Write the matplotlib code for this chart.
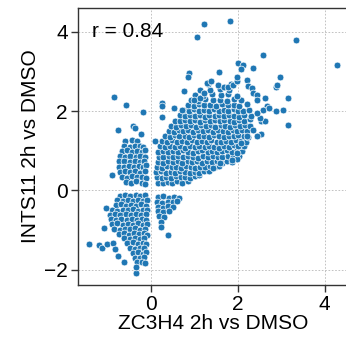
import matplotlib
matplotlib.use("Agg")
import matplotlib.pyplot as plt
import numpy as np

plt.rcParams['font.family'] = ['Liberation Sans', 'DejaVu Sans']

# Upper-right cluster (ZC3H4 up, INTS11 up)
q1 = [
 (0.16,0.20),(0.27,0.18),(0.38,0.22),(0.49,0.19),(0.60,0.23),(0.72,0.20),(0.84,0.25),
 (0.13,0.33),(0.24,0.31),(0.35,0.35),(0.46,0.32),(0.57,0.36),(0.68,0.33),(0.79,0.35),(0.90,0.32),(1.01,0.37),(1.10,0.40),
 (0.12,0.46),(0.23,0.48),(0.34,0.45),(0.45,0.47),(0.56,0.44),(0.67,0.48),(0.78,0.46),(0.89,0.43),(1.00,0.47),(1.11,0.45),(1.22,0.49),(1.34,0.50),
 (0.14,0.59),(0.25,0.57),(0.36,0.61),(0.47,0.58),(0.58,0.60),(0.69,0.57),(0.80,0.62),(0.91,0.59),(1.02,0.56),(1.13,0.60),(1.24,0.58),(1.35,0.61),(1.46,0.59),(1.56,0.62),
 (0.15,0.72),(0.27,0.70),(0.38,0.74),(0.50,0.71),(0.61,0.73),(0.72,0.69),(0.84,0.74),(0.95,0.71),(1.06,0.73),(1.18,0.70),(1.29,0.74),(1.40,0.71),(1.52,0.73),(1.63,0.70),(1.75,0.75),(1.86,0.72),
 (0.17,0.85),(0.28,0.83),(0.40,0.87),(0.51,0.84),(0.62,0.86),(0.74,0.83),(0.85,0.88),(0.96,0.85),(1.08,0.82),(1.19,0.86),(1.30,0.84),(1.42,0.88),(1.53,0.85),(1.64,0.83),(1.76,0.87),(1.88,0.84),(2.02,0.88),
 (0.16,0.98),(0.27,1.00),(0.39,0.96),(0.50,0.99),(0.62,0.97),(0.73,1.01),(0.84,0.98),(0.96,0.95),(1.07,0.99),(1.18,1.01),(1.30,0.97),(1.41,1.00),(1.52,0.96),(1.64,0.99),(1.75,1.02),(1.86,0.98),(1.98,1.01),(2.10,0.99),
 (0.20,1.11),(0.32,1.09),(0.43,1.13),(0.55,1.10),(0.66,1.12),(0.77,1.08),(0.89,1.13),(1.00,1.10),(1.11,1.12),(1.23,1.09),(1.34,1.13),(1.45,1.10),(1.57,1.08),(1.68,1.12),(1.79,1.10),(1.91,1.14),(2.02,1.11),(2.14,1.13),
 (0.26,1.24),(0.37,1.22),(0.49,1.26),(0.60,1.23),(0.71,1.25),(0.83,1.21),(0.94,1.26),(1.05,1.23),(1.17,1.25),(1.28,1.22),(1.39,1.26),(1.51,1.23),(1.62,1.21),(1.73,1.25),(1.85,1.23),(1.96,1.27),(2.07,1.24),(2.19,1.22),
 (0.31,1.37),(0.43,1.35),(0.54,1.39),(0.65,1.36),(0.77,1.38),(0.88,1.34),(0.99,1.39),(1.11,1.36),(1.22,1.38),(1.33,1.35),(1.45,1.39),(1.56,1.36),(1.67,1.34),(1.79,1.38),(1.90,1.36),(2.01,1.40),(2.13,1.37),(2.24,1.35),
 (0.40,1.50),(0.52,1.48),(0.63,1.52),(0.74,1.49),(0.86,1.51),(0.97,1.47),(1.08,1.52),(1.20,1.49),(1.31,1.51),(1.42,1.48),(1.54,1.52),(1.65,1.49),(1.76,1.47),(1.88,1.51),(1.99,1.49),(2.10,1.53),(2.22,1.50),
 (0.46,1.63),(0.58,1.61),(0.69,1.65),(0.80,1.62),(0.92,1.64),(1.03,1.60),(1.14,1.65),(1.26,1.62),(1.37,1.64),(1.48,1.61),(1.60,1.65),(1.71,1.62),(1.82,1.60),(1.94,1.64),(2.05,1.62),(2.16,1.66),(2.28,1.63),
 (0.56,1.76),(0.67,1.74),(0.79,1.78),(0.90,1.75),(1.01,1.77),(1.13,1.73),(1.24,1.78),(1.35,1.75),(1.47,1.77),(1.58,1.74),(1.69,1.78),(1.81,1.75),(1.92,1.73),(2.03,1.77),(2.15,1.75),(2.27,1.79),
 (0.66,1.89),(0.78,1.87),(0.89,1.91),(1.00,1.88),(1.12,1.90),(1.23,1.86),(1.34,1.91),(1.46,1.88),(1.57,1.90),(1.68,1.87),(1.80,1.91),(1.91,1.88),(2.02,1.86),(2.14,1.90),(2.30,1.88),
 (0.76,2.02),(0.88,2.00),(0.99,2.04),(1.10,2.01),(1.22,2.03),(1.33,1.99),(1.44,2.04),(1.56,2.01),(1.67,2.03),(1.78,2.00),(1.90,2.04),(2.01,2.01),(2.12,1.99),(2.26,2.03),
 (0.86,2.15),(0.98,2.13),(1.10,2.17),(1.22,2.14),(1.36,2.16),(1.50,2.12),(1.63,2.17),(1.76,2.14),(1.90,2.16),(2.03,2.13),(2.20,2.17),
 (0.92,2.28),(1.08,2.26),(1.25,2.30),(1.42,2.27),(1.58,2.29),(1.75,2.25),(1.92,2.30),(2.08,2.27),
 (1.02,2.41),(1.20,2.39),(1.40,2.43),(1.60,2.40),(1.78,2.42),(1.98,2.38),
 (1.12,2.54),(1.35,2.52),(1.58,2.56),(1.80,2.53),
 (1.30,2.67),(1.55,2.65),(1.85,2.69),
]

# Upper-left cluster (ZC3H4 down, INTS11 up)
q2 = [
 (-0.60,1.25),(-0.45,1.27),(-0.32,1.24),
 (-0.62,1.12),(-0.50,1.10),(-0.38,1.13),(-0.27,1.11),(-0.18,1.09),
 (-0.68,0.99),(-0.56,1.01),(-0.44,0.98),(-0.33,1.00),(-0.22,0.97),(-0.14,1.01),
 (-0.72,0.86),(-0.60,0.84),(-0.48,0.88),(-0.36,0.85),(-0.25,0.87),(-0.14,0.84),
 (-0.74,0.73),(-0.62,0.75),(-0.50,0.72),(-0.38,0.74),(-0.27,0.71),(-0.16,0.75),
 (-0.75,0.60),(-0.63,0.58),(-0.51,0.62),(-0.40,0.59),(-0.29,0.61),(-0.18,0.58),(-0.12,0.63),
 (-0.73,0.47),(-0.61,0.49),(-0.49,0.46),(-0.37,0.48),(-0.26,0.45),(-0.15,0.49),
 (-0.68,0.34),(-0.56,0.32),(-0.44,0.36),(-0.32,0.33),(-0.21,0.35),(-0.13,0.32),
 (-0.58,0.22),(-0.46,0.20),(-0.34,0.23),(-0.22,0.19),(-0.14,0.17),
]

# Lower-left cluster (ZC3H4 down, INTS11 down)
q3 = [
 (-0.72,-0.13),(-0.60,-0.11),(-0.48,-0.14),(-0.36,-0.12),(-0.25,-0.15),(-0.14,-0.12),
 (-0.78,-0.25),(-0.66,-0.27),(-0.54,-0.24),(-0.42,-0.26),(-0.30,-0.23),(-0.19,-0.27),(-0.10,-0.24),
 (-0.82,-0.37),(-0.70,-0.35),(-0.58,-0.39),(-0.46,-0.36),(-0.34,-0.38),(-0.23,-0.35),(-0.12,-0.39),
 (-0.90,-0.49),(-0.78,-0.51),(-0.66,-0.48),(-0.54,-0.50),(-0.42,-0.47),(-0.30,-0.51),(-0.19,-0.48),(-0.10,-0.50),
 (-0.95,-0.61),(-0.83,-0.59),(-0.71,-0.63),(-0.59,-0.60),(-0.47,-0.62),(-0.35,-0.59),(-0.24,-0.63),(-0.13,-0.60),
 (-0.93,-0.73),(-0.81,-0.75),(-0.69,-0.72),(-0.57,-0.74),(-0.45,-0.71),(-0.33,-0.75),(-0.22,-0.72),(-0.11,-0.74),
 (-0.90,-0.85),(-0.78,-0.83),(-0.66,-0.87),(-0.54,-0.84),(-0.42,-0.86),(-0.30,-0.83),(-0.19,-0.87),(-0.10,-0.84),
 (-0.85,-0.97),(-0.73,-0.99),(-0.61,-0.96),(-0.49,-0.98),(-0.37,-0.95),(-0.26,-0.99),(-0.15,-0.96),
 (-0.75,-1.09),(-0.63,-1.07),(-0.51,-1.11),(-0.39,-1.08),(-0.28,-1.10),(-0.17,-1.07),(-0.10,-1.11),
 (-0.62,-1.21),(-0.50,-1.23),(-0.38,-1.20),(-0.27,-1.22),(-0.16,-1.19),
 (-0.55,-1.33),(-0.43,-1.31),(-0.31,-1.35),(-0.20,-1.32),(-0.11,-1.34),
 (-0.50,-1.45),(-0.38,-1.47),(-0.27,-1.44),(-0.16,-1.46),
 (-0.42,-1.57),(-0.31,-1.55),(-0.20,-1.59),(-0.12,-1.56),
 (-0.38,-1.69),(-0.27,-1.71),(-0.16,-1.68),
 (-0.33,-1.81),(-0.22,-1.79),(-0.14,-1.83),
]

# Lower-middle cluster (ZC3H4 up, INTS11 down)
q4 = [
 (0.16,-0.17),(0.28,-0.15),(0.40,-0.18),(0.52,-0.16),(0.64,-0.19),
 (0.14,-0.29),(0.26,-0.31),(0.38,-0.28),(0.50,-0.30),(0.60,-0.27),
 (0.15,-0.41),(0.27,-0.43),(0.39,-0.40),(0.50,-0.42),
 (0.16,-0.53),(0.28,-0.55),(0.40,-0.52),
 (0.18,-0.65),(0.30,-0.67),
 (0.22,-0.80),(0.22,-0.93),
]

# Sparse outlying genes
outliers = [
 (1.82,4.28),(1.22,4.19),(1.05,3.87),(3.33,3.79),(4.28,3.15),(2.57,3.42),
 (-0.85,2.35),(-0.58,2.15),(-0.18,1.97),(-0.77,1.51),(-0.43,1.63),(-0.38,1.58),(-0.23,1.43),
 (-0.90,0.38),(0.39,-1.12),
 (-1.43,-1.34),(-1.21,-1.37),(-1.14,-1.44),(-1.03,-1.34),(-1.05,-0.45),(-1.09,-0.95),
 (-0.34,-2.07),(-0.34,-1.93),(-0.62,-1.81),(-0.76,-1.64),(-0.88,-1.33),(-0.84,-1.48),
 (3.05,2.03),(2.87,1.99),(3.16,1.64),(3.16,2.32),(2.98,2.87),(2.87,2.60),(2.90,2.65),
 (2.62,2.34),(2.54,1.76),(2.63,1.75),(2.53,1.43),(2.00,3.21),(2.11,3.16),(2.35,3.08),
 (2.06,3.07),(1.56,2.98),(0.88,2.97),(0.84,2.86),
 (0.26,2.20),(0.24,2.13),(0.25,1.85),(0.09,1.24),(0.53,2.08),(0.70,2.02),(0.75,2.50),
 (0.98,2.29),(1.12,2.33),(1.28,2.71),(1.37,2.75),(1.22,2.45),(1.68,2.60),(1.77,2.60),
 (1.89,2.66),(1.98,2.75),(1.98,2.86),(2.20,2.79),(2.24,2.62),(2.32,2.58),(2.35,2.45),
 (2.43,2.41),(2.66,2.12),(2.58,2.03),(2.35,1.51),(2.43,1.36),(2.20,1.36),(2.00,1.11),
 (2.08,1.19),(1.99,0.79),(1.86,0.76),(1.97,0.94),(1.58,0.69),(1.43,0.56),(2.51,1.82),
 (2.45,1.95),(2.72,2.08),(2.43,2.29),
]

r_label = "r = 0.84"
x_label = "ZC3H4 2h vs DMSO"
y_label = "INTS11 2h vs DMSO"
x_ticks = [0, 2, 4]
y_ticks = [-2, 0, 2, 4]

pts = np.array(q1 + q2 + q3 + q4 + outliers)

fig = plt.figure(figsize=(3.46, 3.38), dpi=100)
ax = fig.add_axes([0.226, 0.157, 0.781, 0.8187])
ax.set_axisbelow(True)
ax.grid(True, linestyle=(0, (2, 2)), color='#b8b8b8', linewidth=0.6)
ax.scatter(pts[:, 0], pts[:, 1], s=24, color='#1f77b4', edgecolors='white', linewidths=0.5, zorder=3)

ax.set_xlim(-1.685, 4.55)
ax.set_ylim(-2.38, 4.59)
ax.set_xticks(x_ticks)
ax.set_yticks(y_ticks)
ax.tick_params(labelsize=15, length=5, width=1, color='#333333', labelcolor='black', direction='out', pad=2.5)
for side in ['left', 'bottom', 'top', 'right']:
    ax.spines[side].set_color('#333333')
    ax.spines[side].set_linewidth(1.0)
ax.set_xlabel(x_label, fontsize=15, labelpad=0)
ax.set_ylabel(y_label, fontsize=15, labelpad=3)
ax.text(-1.37, 4.0, r_label, fontsize=15, va='center', ha='left')

fig.savefig("out.png", dpi=100)
